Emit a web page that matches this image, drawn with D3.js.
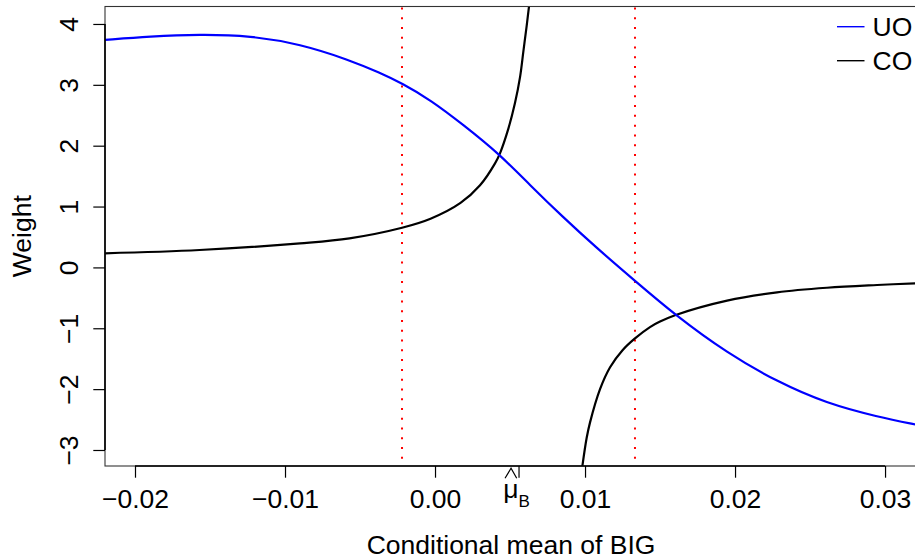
<!DOCTYPE html>
<html>
<head>
<meta charset="utf-8">
<script src="https://cdn.jsdelivr.net/npm/d3@7"></script>
<style>
  body { margin: 0; background: #fff; }
  svg text { font-family: "Liberation Sans", Arial, sans-serif; fill: #000; }
</style>
</head>
<body>
<svg id="chart"></svg>
<script>
// tick values and labels
const xTicks = [-0.02, -0.01, 0, 0.01, 0.02, 0.03];
const xTickLabels = ["\u22120.02", "\u22120.01", "0.00", "0.01", "0.02", "0.03"];
const yTicks = [-3, -2, -1, 0, 1, 2, 3, 4];
const yTickLabels = ["\u22123", "\u22122", "\u22121", "0", "1", "2", "3", "4"];
const muB = 0.0056;
const redLines = [-0.0022, 0.01333];

// UO weight (blue)
const uoX = [-0.022, -0.019, -0.0157, -0.0123, -0.009, -0.0057, -0.0037, -0.0022, -0.0003,
  0.0019, 0.0043, 0.0063, 0.0085, 0.0108, 0.0133, 0.016, 0.0195, 0.0228, 0.0261, 0.0295, 0.0322];
const uoY = [3.737, 3.795, 3.83, 3.807, 3.671, 3.408, 3.2, 3.025, 2.751,
  2.34, 1.86, 1.36, 0.833, 0.314, -0.215, -0.782, -1.412, -1.878, -2.235, -2.455, -2.59];

// CO weight (black), two branches
const coLeftX = [-0.022, -0.0157, -0.009, -0.0057, -0.0022, -0.0003, 0.0017, 0.003, 0.004,
  0.00433, 0.00489, 0.00533, 0.00567, 0.00589, 0.00611, 0.00627, 0.0064];
const coLeftY = [0.232, 0.286, 0.396, 0.478, 0.652, 0.8, 1.06, 1.35, 1.71,
  1.875, 2.28, 2.7, 3.13, 3.55, 3.97, 4.3, 4.6];
const coRightX = [0.00982, 0.01011, 0.01033, 0.011, 0.01167, 0.0125, 0.01331, 0.01433, 0.015,
  0.016, 0.01947, 0.0228, 0.02613, 0.02947, 0.0322];
const coRightY = [-3.27, -2.8, -2.55, -2.0, -1.64, -1.36, -1.17, -0.98, -0.89,
  -0.785, -0.545, -0.409, -0.334, -0.289, -0.26];

const w = 915;
const h = 560;
const plotL = 105, plotR = 917, plotT = 6.5, plotB = 466;
const fs = 26.5;

const svg = d3.select("#chart").attr("width", w).attr("height", h);
svg.append("rect").attr("width", w).attr("height", h).attr("fill", "#fff");

const xScale = d3.scaleLinear().domain([-0.022, 0.03213]).range([plotL, plotR]);
const yScale = d3.scaleLinear().domain([-3.263, 4.287]).range([plotB, plotT]);

svg.append("clipPath").attr("id", "clip")
  .append("rect")
  .attr("x", plotL).attr("y", plotT)
  .attr("width", plotR - plotL).attr("height", plotB - plotT);

const plot = svg.append("g").attr("clip-path", "url(#clip)");

// red dotted verticals
plot.selectAll(".vline")
  .data(redLines)
  .enter()
  .append("line")
  .attr("class", "vline")
  .attr("x1", (d) => xScale(d))
  .attr("x2", (d) => xScale(d))
  .attr("y1", plotT)
  .attr("y2", plotB)
  .attr("stroke", "#ff0000")
  .attr("stroke-width", 2)
  .attr("stroke-dasharray", "2 7.77")
  .attr("stroke-dashoffset", -0.9);

const lineBasis = d3.line()
  .x((d) => xScale(d[0]))
  .y((d) => yScale(d[1]))
  .curve(d3.curveBasis);
const lineCR = d3.line()
  .x((d) => xScale(d[0]))
  .y((d) => yScale(d[1]))
  .curve(d3.curveCatmullRom.alpha(0.5));

const series = [
  { pts: d3.zip(coLeftX, coLeftY), color: "#000", gen: lineCR },
  { pts: d3.zip(coRightX, coRightY), color: "#000", gen: lineCR },
  { pts: d3.zip(uoX, uoY), color: "#0000ff", gen: lineBasis },
];

plot.selectAll(".curve")
  .data(series)
  .enter()
  .append("path")
  .attr("class", "curve")
  .attr("d", (s) => s.gen(s.pts))
  .attr("fill", "none")
  .attr("stroke", (s) => s.color)
  .attr("stroke-width", 2.2);

// box
svg.append("rect")
  .attr("x", plotL).attr("y", plotT)
  .attr("width", plotR - plotL).attr("height", plotB - plotT)
  .attr("fill", "none")
  .attr("stroke", "#333")
  .attr("stroke-width", 1.1);

// x axis
const xAxis = d3.axisBottom(xScale)
  .tickValues(xTicks)
  .tickFormat((d, i) => xTickLabels[i])
  .tickSize(11.7)
  .tickSizeOuter(0);
const gx = svg.append("g")
  .attr("transform", "translate(0," + plotB + ")")
  .call(xAxis)
  .attr("font-size", fs)
  .attr("font-family", "Liberation Sans, Arial, sans-serif");
gx.select(".domain").remove();
gx.selectAll(".tick line").attr("stroke", "#000").attr("stroke-width", 1.2);
gx.selectAll(".tick text").attr("y", 42).attr("dy", null);
gx.append("line")
  .attr("x1", xScale(xTicks[0]))
  .attr("x2", xScale(xTicks[xTicks.length - 1]))
  .attr("stroke", "#000")
  .attr("stroke-width", 1.6);

// mu_B tick
const gm = svg.append("g").attr("transform", "translate(" + xScale(muB) + "," + plotB + ")");
gm.append("line").attr("y2", 11.7).attr("stroke", "#000").attr("stroke-width", 1.2);
gm.append("path")
  .attr("d", "M-14,12.3L-8,2.3L-2.3,12.3")
  .attr("fill", "none")
  .attr("stroke", "#000")
  .attr("stroke-width", 1.2);
const mt = gm.append("text").attr("x", -15.8).attr("y", 32);
mt.append("tspan").style("font-size", fs + "px").text("\u03bc");
mt.append("tspan").style("font-size", "17px").attr("dy", 9).text("B");

// y axis
const yAxis = d3.axisLeft(yScale)
  .tickValues(yTicks)
  .tickFormat((d, i) => yTickLabels[i])
  .tickSize(11.7)
  .tickSizeOuter(0);
const gy = svg.append("g")
  .attr("transform", "translate(" + plotL + ",0)")
  .call(yAxis)
  .attr("font-size", fs)
  .attr("font-family", "Liberation Sans, Arial, sans-serif");
gy.select(".domain").remove();
gy.selectAll(".tick line").attr("stroke", "#000").attr("stroke-width", 1.2);
gy.selectAll(".tick text")
  .attr("transform", "rotate(-90)")
  .attr("x", 0)
  .attr("y", -27)
  .attr("dy", null)
  .attr("text-anchor", "middle");
gy.append("line")
  .attr("y1", yScale(yTicks[0]))
  .attr("y2", yScale(yTicks[yTicks.length - 1]))
  .attr("stroke", "#000")
  .attr("stroke-width", 1.6);

// axis titles
svg.append("text")
  .attr("x", (plotL + plotR) / 2)
  .attr("y", 554)
  .attr("text-anchor", "middle")
  .style("font-size", fs + "px")
  .text("Conditional mean of BIG");
svg.append("text")
  .attr("transform", "translate(31," + (plotT + plotB) / 2 + ") rotate(-90)")
  .attr("text-anchor", "middle")
  .style("font-size", fs + "px")
  .text("Weight");

// legend
const legendItems = [
  { label: "UO", color: "#0000ff", y: 26.7 },
  { label: "CO", color: "#000", y: 60.7 },
];
const legend = svg.append("g");
legend.selectAll("line")
  .data(legendItems)
  .enter()
  .append("line")
  .attr("x1", 837).attr("x2", 864.5)
  .attr("y1", (d) => d.y).attr("y2", (d) => d.y)
  .attr("stroke", (d) => d.color)
  .attr("stroke-width", 1.4);
legend.selectAll("text")
  .data(legendItems)
  .enter()
  .append("text")
  .attr("x", 872.5)
  .attr("y", (d) => d.y + 9.3)
  .style("font-size", fs + "px")
  .text((d) => d.label);
</script>
</body>
</html>
